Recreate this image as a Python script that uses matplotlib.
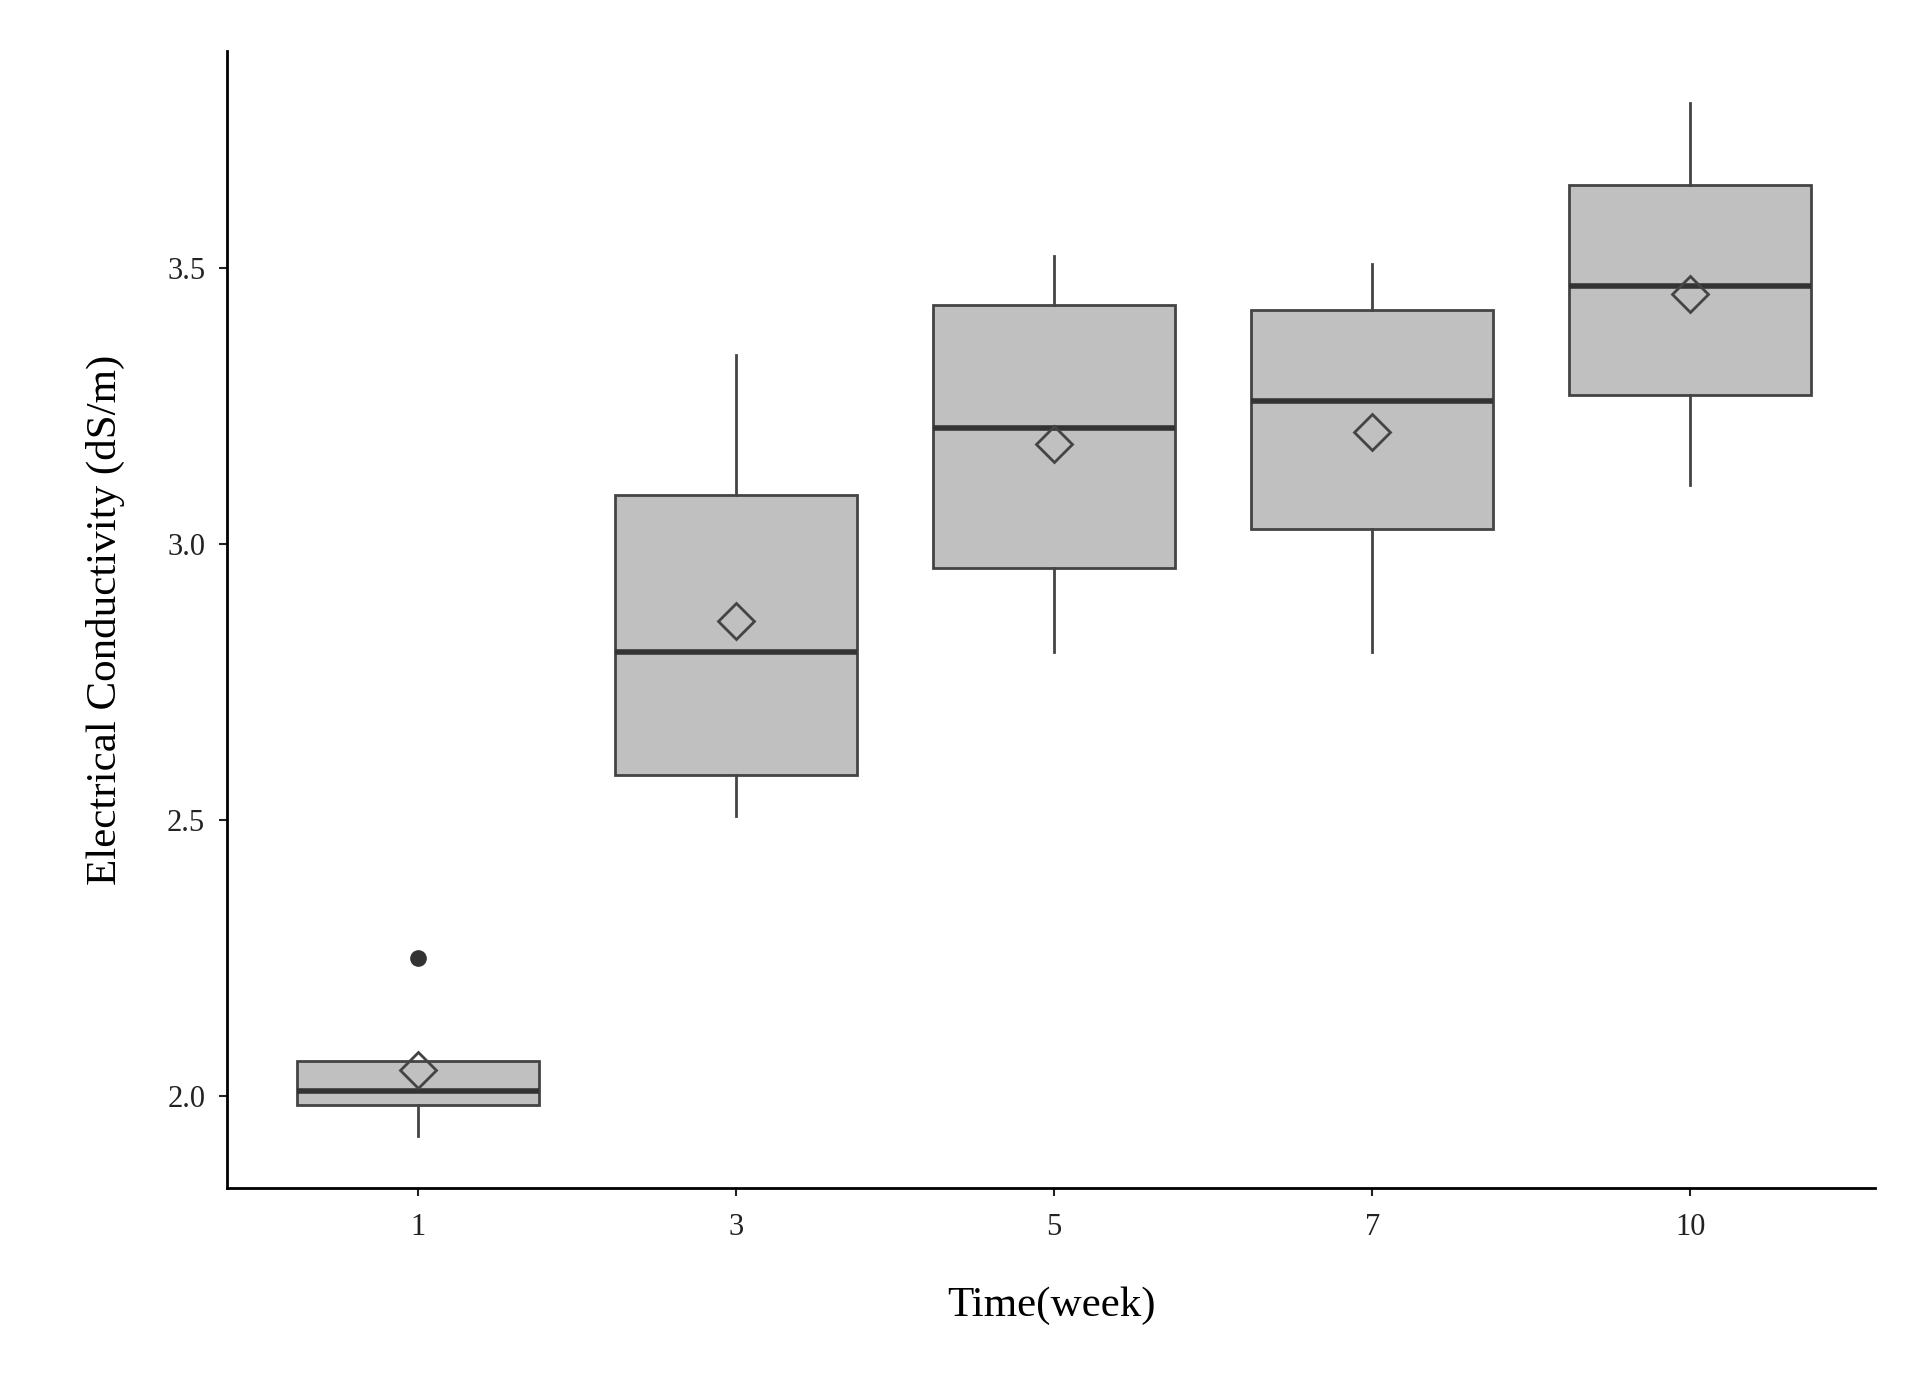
import matplotlib.pyplot as plt

weeks = ["1", "3", "5", "7", "10"]
whislo = [1.927, 2.507, 2.804, 2.804, 3.107]
q1 = [1.984, 2.582, 2.956, 3.027, 3.271]
med = [2.009, 2.804, 3.211, 3.260, 3.467]
q3 = [2.064, 3.089, 3.433, 3.424, 3.651]
whishi = [2.064, 3.342, 3.522, 3.507, 3.800]
means = [2.047, 2.860, 3.182, 3.204, 3.453]
fliers = [[2.251], [], [], [], []]

plt.rcParams['font.family'] = ['Liberation Serif', 'DejaVu Serif']

stats = []
for i in range(len(weeks)):
    stats.append(dict(label=weeks[i], whislo=whislo[i], q1=q1[i], med=med[i],
                      q3=q3[i], whishi=whishi[i], mean=means[i], fliers=fliers[i]))

fig = plt.figure(figsize=(19.11, 13.85), dpi=100)
ax = fig.add_axes([0.119, 0.142, 0.862, 0.821])
ax.bxp(stats, positions=range(len(weeks)), widths=0.76, showmeans=True,
       showcaps=False, patch_artist=True,
       boxprops=dict(facecolor='#c0c0c0', edgecolor='#444444', linewidth=2),
       medianprops=dict(color='#333333', linewidth=4),
       whiskerprops=dict(color='#444444', linewidth=2),
       meanprops=dict(marker='D', markerfacecolor='none', markeredgecolor='#444444',
                      markersize=18, markeredgewidth=2),
       flierprops=dict(marker='o', markerfacecolor='#333333', markeredgecolor='#333333',
                       markersize=11))

ax.set_xlim(-0.6, 4.58)
ax.set_ylim(1.833, 3.893)
ax.set_yticks([2.0, 2.5, 3.0, 3.5])
ax.set_yticklabels(["2.0", "2.5", "3.0", "3.5"])
ax.spines['top'].set_visible(False)
ax.spines['right'].set_visible(False)
ax.spines['left'].set_linewidth(2)
ax.spines['bottom'].set_linewidth(2)
ax.tick_params(labelsize=22, width=1.5, length=6, colors='#222222')
ax.tick_params(axis='x', pad=12)
ax.tick_params(axis='y', pad=10)
ax.set_xlabel("Time(week)", fontsize=31, labelpad=32)
ax.set_ylabel("Electrical Conductivity (dS/m)", fontsize=31, labelpad=30)
fig.savefig("out.png", dpi=100)
